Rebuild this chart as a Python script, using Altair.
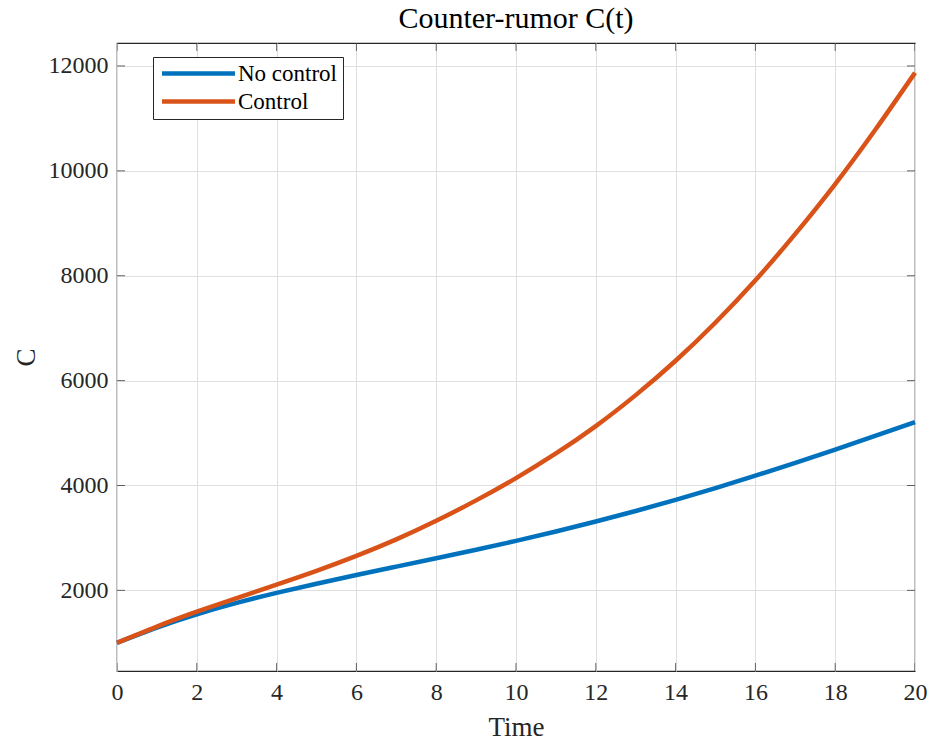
import altair as alt
import pandas as pd

# ---- data ----
t = list(range(21))
no_control = [1000, 1290, 1542, 1760, 1952, 2127, 2292, 2452, 2612, 2775, 2943,
              3123, 3313, 3513, 3725, 3950, 4186, 4431, 4684, 4944, 5210]
control = [1000, 1310, 1592, 1854, 2109, 2371, 2656, 2971, 3326, 3716, 4141,
           4611, 5133, 5723, 6378, 7108, 7913, 8798, 9748, 10778, 11870]
series_names = ["No control", "Control"]
colors = ["#0072BD", "#D95319"]
x_ticks = list(range(0, 21, 2))
y_ticks = [2000, 4000, 6000, 8000, 10000, 12000]
x_domain = [0, 20]
y_domain = [462, 12438]

FONT = "Liberation Serif"
DARK = "#262626"
W, H = 798, 628

df = pd.DataFrame({
    "t": t + t,
    "C": no_control + control,
    "series": [series_names[0]] * len(t) + [series_names[1]] * len(t),
})
xt = pd.DataFrame({"t": x_ticks})
yt = pd.DataFrame({"C": y_ticks})

xscale = alt.Scale(domain=x_domain, nice=False, zero=False)
yscale = alt.Scale(domain=y_domain, nice=False, zero=False)

lines = alt.Chart(df).mark_line(strokeWidth=4.5, interpolate="natural").encode(
    x=alt.X("t:Q", scale=xscale,
            axis=alt.Axis(values=x_ticks, title="Time", format="d", grid=True,
                          ticks=False, domain=False, labelPadding=9,
                          labelFlush=False, titlePadding=10)),
    y=alt.Y("C:Q", scale=yscale,
            axis=alt.Axis(values=y_ticks, title="C", format="d", grid=True,
                          ticks=False, domain=False, labelPadding=9,
                          labelFlush=False, titlePadding=8)),
    color=alt.Color("series:N",
                    scale=alt.Scale(domain=series_names, range=colors),
                    legend=alt.Legend(title=None, orient="none", legendX=36, legendY=14,
                                      direction="vertical",
                                      symbolType="M-5,0L5,0", symbolSize=213,
                                      symbolStrokeWidth=4.5, symbolOffset=29,
                                      labelOffset=28, labelFontSize=23, labelFont=FONT,
                                      labelColor="black",
                                      fillColor="white", strokeColor=DARK,
                                      padding=5, rowPadding=4)),
)

tick_kw = dict(thickness=1, size=16, color=DARK, clip=True)
tick_bottom = alt.Chart(xt).mark_tick(**tick_kw).encode(
    x=alt.X("t:Q", scale=xscale), y=alt.value(H))
tick_top = alt.Chart(xt).mark_tick(**tick_kw).encode(
    x=alt.X("t:Q", scale=xscale), y=alt.value(0))
tick_left = alt.Chart(yt).mark_tick(**tick_kw).encode(
    y=alt.Y("C:Q", scale=yscale), x=alt.value(0))
tick_right = alt.Chart(yt).mark_tick(**tick_kw).encode(
    y=alt.Y("C:Q", scale=yscale), x=alt.value(W))

chart = alt.layer(lines, tick_bottom, tick_top, tick_left, tick_right).properties(
    width=W, height=H,
    title=alt.TitleParams("Counter-rumor C(t)", fontSize=30, font=FONT,
                          fontWeight="normal", color="black", offset=9),
    autosize=alt.AutoSizeParams(type="none"),
    padding={"left": 117, "top": 43, "right": 16, "bottom": 73},
    background="white",
).configure_view(
    stroke=DARK, strokeWidth=1.2
).configure_axis(
    gridColor="#dfdfdf", gridWidth=1, gridOpacity=1,
    labelFont=FONT, labelFontSize=24, labelColor=DARK,
    titleFont=FONT, titleFontSize=27, titleFontWeight="normal", titleColor=DARK,
)

chart.save("out.html", embed_options={"renderer": "svg", "actions": False})
